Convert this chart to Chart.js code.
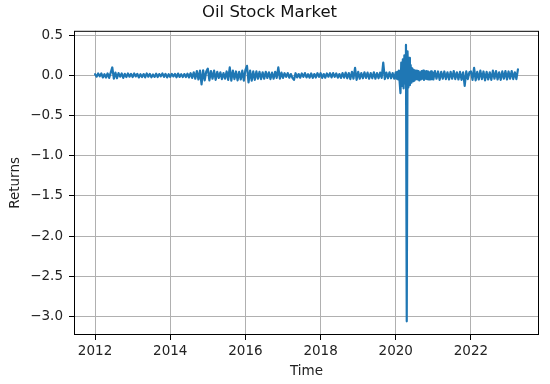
<!DOCTYPE html>
<html>
<head>
<meta charset="utf-8">
<script src="https://cdn.jsdelivr.net/npm/chart.js@4.4.1/dist/chart.umd.min.js"></script>
<style>
  html, body { margin: 0; padding: 0; background: #fff; }
  #wrap { width: 550px; height: 384px; }
</style>
</head>
<body>
<div id="wrap"><canvas id="oilChart"></canvas></div>
<script>
// returns, roughly two samples per month (2020 weekly)
const returns2012 = [0.015, -0.015, 0.025, -0.01, 0.025, -0.025, 0.015, -0.025, 0.025, -0.03, 0.035, 0.1, -0.04, 0.035, -0.035, 0.03, -0.015, 0.025, -0.03, 0.02, -0.02, 0.025, -0.015, 0.02];
const returns2013 = [-0.02, 0.025, -0.012, 0.02, -0.025, 0.015, -0.02, 0.018, -0.024, 0.025, -0.015, 0.02, -0.022, 0.012, -0.018, 0.022, -0.02, 0.018, -0.01, 0.025, -0.018, 0.02, -0.024, 0.015];
const returns2014 = [-0.018, 0.02, -0.012, 0.018, -0.022, 0.024, -0.018, 0.015, -0.02, 0.018, -0.02, 0.022, -0.025, 0.028, -0.03, 0.04, -0.04, 0.055, -0.05, 0.06, -0.11, 0.065, -0.06, 0.05];
const returns2015 = [0.085, -0.06, 0.055, -0.04, 0.06, -0.055, 0.045, -0.03, 0.04, -0.045, 0.03, -0.04, 0.05, -0.055, 0.1, -0.065, 0.06, -0.045, 0.05, -0.06, 0.045, -0.05, 0.06, -0.065];
const returns2016 = [0.07, 0.12, -0.085, 0.06, -0.065, 0.05, -0.055, 0.05, -0.04, 0.045, -0.045, 0.04, -0.04, 0.045, -0.03, 0.04, -0.045, 0.035, -0.04, 0.045, -0.03, 0.1, -0.04, 0.035];
const returns2017 = [-0.03, 0.028, -0.018, 0.03, -0.028, 0.018, -0.03, -0.055, 0.028, -0.025, 0.018, -0.028, 0.025, -0.018, 0.03, -0.025, 0.015, -0.028, 0.025, -0.03, 0.018, -0.025, 0.028, -0.018];
const returns2018 = [0.028, -0.03, 0.018, -0.028, 0.025, -0.015, 0.028, -0.025, 0.03, -0.018, 0.025, -0.028, 0.018, -0.03, 0.03, -0.028, 0.035, -0.035, 0.03, -0.045, 0.045, -0.04, 0.095, -0.055];
const returns2019 = [0.045, -0.04, 0.03, -0.035, 0.04, -0.03, 0.035, -0.04, 0.03, -0.035, 0.04, -0.04, 0.03, -0.035, 0.035, -0.03, 0.16, -0.045, 0.035, -0.035, 0.04, -0.035, 0.03, -0.04];
const returns2020 = [0.04, -0.04, 0.045, -0.05, 0.06, -0.09, -0.22, 0.16, -0.13, 0.2, -0.16, 0.25, -0.1, 0.38, -3.06, 0.3, -0.15, 0.22, -0.12, 0.13, -0.09, 0.09, -0.07, 0.07,
  -0.06, 0.06, -0.045, 0.06, -0.05, 0.055, -0.06, 0.04, -0.05, 0.055, -0.04, 0.06, -0.055, 0.05, -0.04, 0.055, -0.045, 0.05, -0.05, 0.04, -0.05, 0.05, -0.045, 0.04];
const returns2021 = [-0.05, 0.055, -0.04, 0.05, -0.055, 0.045, -0.04, 0.05, -0.045, 0.04, -0.05, 0.045, -0.04, 0.055, -0.045, 0.04, -0.05, 0.045, -0.055, 0.04, -0.13, 0.05, -0.045, 0.04];
const returns2022 = [0.05, -0.055, 0.095, -0.06, 0.045, -0.05, 0.06, -0.045, 0.05, -0.06, 0.045, -0.05, 0.04, -0.055, 0.06, -0.04, 0.055, -0.05, 0.04, -0.055, 0.05, -0.04, 0.055, -0.05];
const returns2023 = [0.05, -0.04, 0.055, -0.045, 0.04, -0.045, 0.075];

const years = [2012, 2013, 2014, 2015, 2016, 2017, 2018, 2019, 2020, 2021, 2022, 2023];
const yearlyReturns = [returns2012, returns2013, returns2014, returns2015, returns2016, returns2017,
  returns2018, returns2019, returns2020, returns2021, returns2022, returns2023];
const samplesPerYear = [24, 24, 24, 24, 24, 24, 24, 24, 48, 24, 24, 24];

const xTicks = [2012, 2014, 2016, 2018, 2020, 2022];
const yTicks = [0.5, 0.0, -0.5, -1.0, -1.5, -2.0, -2.5, -3.0];

const points = [];
years.forEach((yr, k) => {
  yearlyReturns[k].forEach((v, i) => {
    points.push({ x: yr + i / samplesPerYear[k], y: v });
  });
});

const font = { family: "DejaVu Sans", size: 13.5 };

// full box around the plot, like matplotlib spines
const frame = {
  id: "frame",
  afterDraw(chart) {
    const { ctx, chartArea: a } = chart;
    ctx.save();
    ctx.strokeStyle = "#000";
    ctx.lineWidth = 1;
    ctx.strokeRect(a.left + 0.5, a.top + 0.5, a.right - a.left - 1, a.bottom - a.top - 1);
    ctx.restore();
  },
};

new Chart(document.getElementById("oilChart"), {
  type: "line",
  data: {
    datasets: [
      {
        data: points,
        borderColor: "#1f77b4",
        borderWidth: 2.2,
        borderJoinStyle: "round",
        borderCapStyle: "round",
        pointRadius: 0,
        tension: 0,
        fill: false,
      },
    ],
  },
  options: {
    responsive: true,
    maintainAspectRatio: false,
    animation: false,
    layout: { padding: { left: 0, right: 11, top: 0, bottom: 0 } },
    plugins: {
      legend: { display: false },
      tooltip: { enabled: false },
      title: {
        display: true,
        text: "Oil Stock Market",
        color: "#111",
        font: { family: "DejaVu Sans", size: 16.5, weight: "normal" },
        padding: { top: 3, bottom: 8 },
      },
    },
    scales: {
      x: {
        type: "linear",
        min: 2011.44,
        max: 2023.81,
        afterBuildTicks: (s) => { s.ticks = xTicks.map((v) => ({ value: v })); },
        afterFit: (s) => { s.height = 49; },
        ticks: { color: "#222", font, padding: 3, maxRotation: 0, callback: (v) => String(v) },
        grid: { color: "#b0b0b0", lineWidth: 1, tickLength: 5, tickColor: "#000" },
        border: { display: false },
        title: { display: true, text: "Time", color: "#222", font, padding: { top: 0, bottom: 4 } },
      },
      y: {
        min: -3.23,
        max: 0.556,
        afterBuildTicks: (s) => { s.ticks = yTicks.map((v) => ({ value: v })); },
        afterFit: (s) => { s.width = 74; },
        ticks: {
          color: "#222",
          font,
          padding: 6,
          callback: (v) => (v < 0 ? "\u2212" + Math.abs(v).toFixed(1) : v.toFixed(1)),
        },
        grid: { color: "#b0b0b0", lineWidth: 1, tickLength: 5, tickColor: "#000" },
        border: { display: false },
        title: { display: true, text: "Returns", color: "#222", font, padding: { top: 7, bottom: 0 } },
      },
    },
  },
  plugins: [frame],
});
</script>
</body>
</html>
